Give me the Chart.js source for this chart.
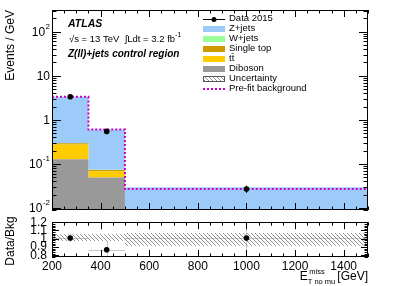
<!DOCTYPE html>
<html lang="en">
<head>
    <meta charset="UTF-8">
    <title>Z(ll)+jets control region</title>
    <script src="https://cdn.jsdelivr.net/npm/chart.js@4.4.0/dist/chart.umd.min.js"></script>
    <style>
        body { margin: 0; background: #fff; }
        #wrap { position: relative; width: 399px; height: 286px; }
        canvas { position: absolute; left: 0; }
    </style>
</head>
<body>
    <div id="wrap">
        <canvas id="main" width="399" height="214" style="top:0px"></canvas>
        <canvas id="ratio" width="399" height="76" style="top:210px"></canvas>
    </div>
    <script>
        // bins in E_T^miss [GeV]
        const binEdges = [200, 350, 500, 1500]
        const binCentres = [275, 425, 1000]

        // events / GeV
        const dataVals = [3.34, 0.546, 0.027]
        const dataErr = [0.15, 0.06, 0.005]
        const zjets = [3.04, 0.53, 0.0262]
        const wjets = [0.002, 0.0008, 0.0002]
        const singleTop = [0.02, 0.005, 0.0003]
        const ttbar = [0.147, 0.019, 0.0008]
        const diboson = [0.128, 0.049, 0.002]
        const prefit = [3.32, 0.6, 0.0268]

        // ratio panel
        const ratioVals = [1.01, 0.867, 1.01]
        const ratioErr = [0.05, 0.11, 0.3]
        const uncLo = [0.973, 0.973, 0.916]
        const uncHi = [1.056, 1.056, 1.069]

        // axis labels
        const yTicks = [0.01, 0.1, 1, 10, 100]
        const yTickLabels = [['10', '-2'], ['10', '-1'], ['1', ''], ['10', ''], ['10', '2']]
        const xTicks = [200, 400, 600, 800, 1000, 1200, 1400]
        const ratioTicks = [0.8, 0.9, 1, 1.1, 1.2]

        const FONT = '"Liberation Sans", Arial, Helvetica, sans-serif'
        const col = {
            zjets: '#9ccbfa', wjets: '#99ff99', singleTop: '#cc9900', ttbar: '#ffcc00',
            diboson: '#999999', prefit: '#cc00cc'
        }

        function hatch(color) {
            let t = document.createElement('canvas')
            t.width = 4; t.height = 4
            let c = t.getContext('2d')
            c.strokeStyle = color
            c.lineWidth = 0.8
            c.beginPath()
            c.moveTo(0, 0); c.lineTo(4, 4)
            c.moveTo(-1, 3); c.lineTo(1, 5)
            c.moveTo(3, -1); c.lineTo(5, 1)
            c.stroke()
            return c.createPattern(t, 'repeat')
        }
        const hatchFill = hatch('#777')

        // histogram outline: value i holds from edge i to edge i+1
        function steps(vals) {
            return binEdges.map((e, i) => ({ x: e, y: vals[Math.min(i, vals.length - 1)] }))
        }

        // stack bottom -> top
        const stack = [
            ['Diboson', diboson, col.diboson],
            ['ttbar', ttbar, col.ttbar],
            ['Single top', singleTop, col.singleTop],
            ['W+jets', wjets, col.wjets],
            ['Z+jets', zjets, col.zjets],
        ]
        var run = [0, 0, 0]
        const stackSets = stack.map((s, i) => {
            run = run.map((r, j) => r + s[1][j])
            return {
                label: s[0], data: steps(run.slice()), stepped: 'before',
                borderWidth: 0, pointRadius: 0, backgroundColor: s[2],
                fill: i == 0 ? 'start' : '-1', order: 2,
            }
        })

        function drawTicks(chart, xMarks, yMarks) {
            const { ctx, chartArea: a, scales: { x, y } } = chart
            ctx.save()
            ctx.strokeStyle = '#000'
            ctx.lineWidth = 1
            ctx.beginPath()
            xMarks.forEach(m => {
                let px = Math.round(x.getPixelForValue(m.v)) + 0.5
                ctx.moveTo(px, a.bottom); ctx.lineTo(px, a.bottom - m.len)
                ctx.moveTo(px, a.top); ctx.lineTo(px, a.top + m.len)
            })
            yMarks.forEach(m => {
                let py = Math.round(y.getPixelForValue(m.v)) + 0.5
                ctx.moveTo(a.left, py); ctx.lineTo(a.left + m.len, py)
                ctx.moveTo(a.right, py); ctx.lineTo(a.right - m.len, py)
            })
            ctx.stroke()
            ctx.strokeRect(Math.round(a.left) + 0.5, Math.round(a.top) + 0.5,
                Math.round(a.right - a.left) - 1, Math.round(a.bottom - a.top) - 1)
            ctx.restore()
        }

        const xMarks = []
        for (let v = 200; v <= 1500; v += 50) xMarks.push({ v: v, len: v % 200 == 0 ? 7 : 3.5 })
        const yMarks = []
        for (let d = -3; d <= 2; d++) {
            for (let k = 1; k <= 9; k++) {
                let v = k * Math.pow(10, d)
                if (v >= 0.009 && v <= 310) yMarks.push({ v: v, len: k == 1 ? 9 : 4.5 })
            }
        }
        const rMarks = []
        for (let i = 39; i <= 60; i++) rMarks.push({ v: i * 0.02, len: i % 5 == 0 ? 7 : 3.5 })

        function rotText(ctx, text, x, y, align) {
            ctx.save()
            ctx.translate(x, y)
            ctx.rotate(-Math.PI / 2)
            ctx.textAlign = align
            ctx.textBaseline = 'middle'
            ctx.fillText(text, 0, 0)
            ctx.restore()
        }

        const mainPlugin = {
            id: 'mainDeco',
            afterDatasetsDraw(chart) {
                const { ctx, scales: { x, y } } = chart
                ctx.save()
                ctx.strokeStyle = '#000'
                ctx.lineWidth = 1
                ctx.beginPath()
                dataVals.forEach((v, i) => {
                    let px = Math.round(x.getPixelForValue(binCentres[i])) + 0.5
                    ctx.moveTo(px, y.getPixelForValue(v - dataErr[i]))
                    ctx.lineTo(px, y.getPixelForValue(v + dataErr[i]))
                })
                ctx.stroke()
                ctx.restore()
            },
            afterDraw(chart) {
                const { ctx, chartArea: a, scales: { y } } = chart
                drawTicks(chart, xMarks, yMarks)
                ctx.save()
                ctx.fillStyle = '#000'
                // y tick labels with exponents
                ctx.textBaseline = 'middle'
                ctx.textAlign = 'right'
                yTicks.forEach((v, i) => {
                    let py = y.getPixelForValue(v)
                    let [base, ex] = yTickLabels[i]
                    ctx.font = '8px ' + FONT
                    let w = ex ? ctx.measureText(ex).width + 0.5 : 0
                    if (ex) ctx.fillText(ex, 50, py - 5)
                    ctx.font = '12px ' + FONT
                    ctx.fillText(base, 50 - w, py + 1)
                })
                ctx.font = '12px ' + FONT
                rotText(ctx, 'Events / GeV', 11, 10, 'right')

                // labels
                ctx.textAlign = 'left'
                ctx.font = 'italic bold 10.5px ' + FONT
                ctx.fillText('ATLAS', 68, 24)
                ctx.font = '9.5px ' + FONT
                ctx.fillText('\u221As = 13 TeV  \u222BLdt = 3.2 fb', 69, 39)
                let w = ctx.measureText('\u221As = 13 TeV  \u222BLdt = 3.2 fb').width
                ctx.font = '7px ' + FONT
                ctx.fillText('-1', 69 + w, 35)
                ctx.font = 'italic bold 10px ' + FONT
                ctx.fillText('Z(ll)+jets control region', 68, 54)

                // legend
                const entries = [
                    ['Data 2015', 'data'], ['Z+jets', col.zjets], ['W+jets', col.wjets],
                    ['Single top', col.singleTop], ['t\u0074\u0304', col.ttbar], ['Diboson', col.diboson],
                    ['Uncertainty', 'unc'], ['Pre-fit background', 'prefit']
                ]
                entries.forEach((e, i) => {
                    let cy = 19 + i * 10
                    if (e[1] == 'data') {
                        ctx.strokeStyle = '#000'; ctx.lineWidth = 1
                        ctx.beginPath(); ctx.moveTo(203, cy + 0.5); ctx.lineTo(225, cy + 0.5); ctx.stroke()
                        ctx.beginPath(); ctx.arc(214, cy + 0.5, 2.5, 0, 2 * Math.PI); ctx.fill()
                    } else if (e[1] == 'prefit') {
                        ctx.strokeStyle = col.prefit; ctx.lineWidth = 2
                        ctx.setLineDash([2, 2])
                        ctx.beginPath(); ctx.moveTo(203, cy); ctx.lineTo(225, cy); ctx.stroke()
                        ctx.setLineDash([])
                    } else if (e[1] == 'unc') {
                        ctx.fillStyle = hatchFill
                        ctx.fillRect(203, cy - 3, 22, 6)
                        ctx.strokeStyle = '#555'; ctx.lineWidth = 1
                        ctx.strokeRect(203.5, cy - 2.5, 21, 5)
                    } else {
                        ctx.fillStyle = e[1]
                        ctx.fillRect(203, cy - 3, 22, 6)
                    }
                    ctx.fillStyle = '#000'
                    ctx.font = '9.5px ' + FONT
                    ctx.textBaseline = 'middle'
                    ctx.fillText(e[0], 229, cy - 1)
                })
                ctx.restore()
            }
        }

        new Chart(document.getElementById('main'), {
            type: 'line',
            data: {
                datasets: [
                    {
                        label: 'Data 2015', data: dataVals.map((v, i) => ({ x: binCentres[i], y: v })),
                        showLine: false, pointRadius: 2.8, pointBackgroundColor: '#000', pointBorderColor: '#000',
                        borderWidth: 0, order: 0,
                    },
                    {
                        label: 'Pre-fit background', data: steps(prefit), stepped: 'before', fill: false,
                        borderColor: col.prefit, borderWidth: 2, borderDash: [2, 2], pointRadius: 0, order: 1,
                    },
                ].concat(stackSets),
            },
            options: {
                responsive: false,
                animation: false,
                events: [],
                layout: { padding: { left: 52, right: 31, top: 10, bottom: 2 } },
                plugins: { legend: { display: false }, tooltip: { enabled: false } },
                scales: {
                    x: { type: 'linear', min: 200, max: 1500, display: false },
                    y: { type: 'logarithmic', min: 0.009, max: 310, display: false },
                },
            },
            plugins: [mainPlugin],
        })

        const ratioPlugin = {
            id: 'ratioDeco',
            beforeDatasetsDraw(chart) {
                const { ctx, chartArea: a, scales: { x, y } } = chart
                ctx.save()
                ctx.beginPath(); ctx.rect(a.left, a.top, a.right - a.left, a.bottom - a.top); ctx.clip()
                ctx.strokeStyle = '#c8c8c8'
                ctx.lineWidth = 1
                ctx.beginPath()
                ratioVals.forEach((v, i) => {
                    let px = Math.round(x.getPixelForValue(binCentres[i])) + 0.5
                    let py = Math.round(y.getPixelForValue(v)) + 0.5
                    ctx.moveTo(x.getPixelForValue(binEdges[i]), py)
                    ctx.lineTo(x.getPixelForValue(binEdges[i + 1]), py)
                    ctx.moveTo(px, y.getPixelForValue(v - ratioErr[i]))
                    ctx.lineTo(px, y.getPixelForValue(v + ratioErr[i]))
                })
                ctx.stroke()
                ctx.restore()
            },
            afterDraw(chart) {
                const { ctx } = chart
                drawTicks(chart, xMarks, rMarks)
                ctx.save()
                ctx.fillStyle = '#000'
                ctx.font = '12px ' + FONT
                rotText(ctx, 'Data/Bkg', 11, 31, 'center')
                // x title: E_T no mu ^miss [GeV]
                ctx.textBaseline = 'alphabetic'
                ctx.textAlign = 'right'
                ctx.font = '12px ' + FONT
                ctx.fillText('[GeV]', 368, 70)
                let wG = ctx.measureText('[GeV]').width
                ctx.font = '7.5px ' + FONT
                let sub = 'T no mu '
                let wS = ctx.measureText(sub).width
                ctx.textAlign = 'left'
                let sx = 368 - wG - wS
                ctx.fillText(sub, sx, 74)
                ctx.fillText('miss', sx + 1.5, 64)
                ctx.font = '12px ' + FONT
                ctx.textAlign = 'right'
                ctx.fillText('E', sx, 70)
                ctx.restore()
            }
        }

        new Chart(document.getElementById('ratio'), {
            type: 'line',
            data: {
                datasets: [
                    {
                        label: 'Data/Bkg', data: ratioVals.map((v, i) => ({ x: binCentres[i], y: v })),
                        showLine: false, pointRadius: 2.8, pointBackgroundColor: '#000', pointBorderColor: '#000',
                        borderWidth: 0, order: 0,
                    },
                    {
                        label: 'Uncertainty', data: steps(uncHi), stepped: 'before', borderWidth: 0, pointRadius: 0,
                        backgroundColor: hatchFill, fill: '+1', order: 1,
                    },
                    {
                        label: 'unc low', data: steps(uncLo), stepped: 'before', borderWidth: 0, pointRadius: 0,
                        fill: false, order: 1,
                    },
                ],
            },
            options: {
                responsive: false,
                animation: false,
                events: [],
                layout: { padding: { left: 0, right: 31, top: 10, bottom: 0 } },
                plugins: { legend: { display: false }, tooltip: { enabled: false } },
                scales: {
                    x: {
                        type: 'linear', min: 200, max: 1500,
                        afterBuildTicks: (s) => { s.ticks = xTicks.map(v => ({ value: v })) },
                        afterFit: (s) => { s.height = 29 },
                        grid: { display: false, drawTicks: false },
                        border: { display: false },
                        ticks: {
                            autoSkip: false, maxRotation: 0, padding: 2, color: '#000',
                            font: { family: FONT, size: 12 },
                            callback: (v) => String(v),
                        },
                    },
                    y: {
                        type: 'linear', min: 0.78, max: 1.2,
                        afterBuildTicks: (s) => { s.ticks = ratioTicks.map(v => ({ value: v })) },
                        afterFit: (s) => { s.width = 52 },
                        grid: { display: false, drawTicks: false },
                        border: { display: false },
                        ticks: {
                            autoSkip: false, padding: 5, color: '#000',
                            font: { family: FONT, size: 12 },
                            callback: (v) => String(Math.round(v * 10) / 10),
                        },
                    },
                },
            },
            plugins: [ratioPlugin],
        })
    </script>
</body>
</html>
